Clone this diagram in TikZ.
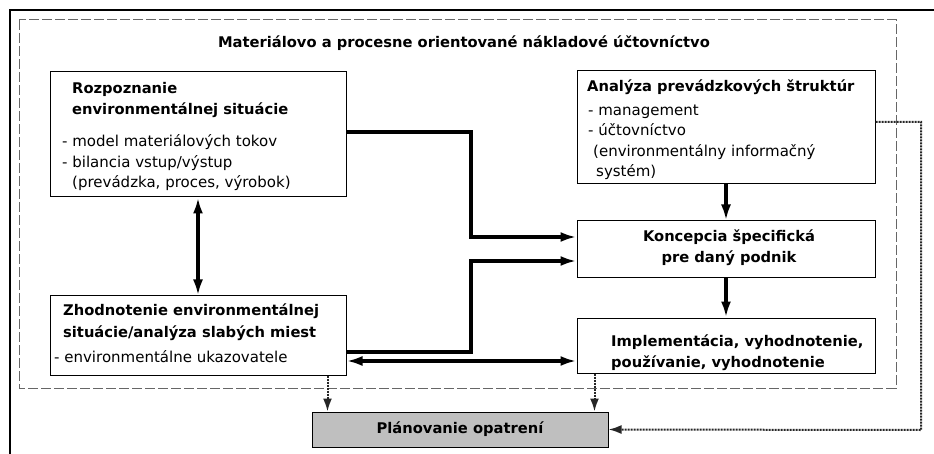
\documentclass[tikz,border=0pt]{standalone}
\usepackage{fontspec}
\setmainfont{DejaVu Sans}
\usetikzlibrary{arrows.meta}
\newcommand{\headsize}{\fontsize{14.7}{21}\selectfont\bfseries}
\newcommand{\bodysize}{\fontsize{15}{20.5}\selectfont}

\begin{document}
\begin{tikzpicture}[x=1pt, y=-1pt,
    box/.style = {draw, line width=1pt, inner sep=0pt},
    head/.style = {font=\headsize, inner sep=0pt, align=left, anchor=base west},
    body/.style = {font=\bodysize, inner sep=0pt, align=left, anchor=base west},
    heavy/.style = {line width=3.2pt, -{Latex[length=16pt, width=10pt]}},
    both/.style = {line width=3.2pt, {Latex[length=16pt, width=10pt]}-{Latex[length=16pt, width=10pt]}},
    dot/.style = {line width=2pt, dash pattern=on 2pt off 1pt, color=black!85,
      -{Latex[length=13pt, width=9pt]}},
  ]
    \useasboundingbox (0,0) rectangle (934,454);
    \draw [line width=2pt] (10,454) |- (934,10);
    \draw [black!60, line width=1pt, dash pattern=on 10pt off 3pt] (19,20) rectangle (896,388);
    \node [head, anchor=base] (title) at (464,48)
      {Materiálovo a procesne orientované nákladové účtovníctvo};

    \node [box, minimum width=296, minimum height=125] (rozp) at (198,134.5) {};
    \node [box, minimum width=298, minimum height=113] (anal) at (726,127.5) {};
    \node [box, minimum width=298, minimum height=57] (konc) at (726,249.5) {};
    \node [box, minimum width=298, minimum height=55] (impl) at (726,345.5) {};
    \node [box, minimum width=296, minimum height=79] (zhod) at (198,335.5) {};
    \node [box, fill=black!25, minimum width=296, minimum height=35,
      font=\headsize] (plan) at (460,429.5) {Plánovanie opatrení};

    % multi-line texts sit on the baseline of their last line
    \node [head] (rozp-head) at (72,115) {Rozpoznanie\\environmentálnej situácie};
    \node [body] (rozp-body) at (62,188) {- model materiálových tokov\\
      - bilancia vstup/výstup\\\hspace*{10pt}(prevádzka, proces, výrobok)};
    \node [head] (anal-head) at (587,92) {Analýza prevádzkových štruktúr};
    \node [body] (anal-body) at (588,177) {- management\\- účtovníctvo\\
      \hspace*{5pt}(environmentálny informačný\\\hspace*{8pt}systém)};
    \node [head, align=center, anchor=base] (konc-head) at (729,263)
      {Koncepcia špecifická\\pre daný podnik};
    \node [head] (impl-head) at (611,367)
      {Implementácia, vyhodnotenie,\\používanie, vyhodnotenie};
    \node [head] (zhod-head) at (63,337)
      {Zhodnotenie environmentálnej\\situácie/analýza slabých miest};
    \node [body] (zhod-body) at (54,362) {- environmentálne ukazovatele};

    \draw [both] (rozp.south) -- (zhod.north);
    \draw [heavy] ([yshift=2.5pt]rozp.east) -| (471,237) -- ([yshift=12.5pt]konc.west);
    \draw [heavy] ([yshift=-16.5pt]zhod.east) -| (471,261) -- ([yshift=-11.5pt]konc.west);
    \draw [heavy] (anal.south) -- (konc.north);
    \draw [heavy] (konc.south) -- (impl.north);
    \draw [both] ([yshift=-25.5pt]zhod.east) -- ([yshift=-25.5pt]zhod.east -| impl.west);
    \draw [dot] ([xshift=-19pt]zhod.south east) -- ([xshift=-19pt]zhod.south east |- plan.north);
    \draw [dot] ([xshift=18pt]impl.south west) -- ([xshift=18pt]impl.south west |- plan.north);
    \draw [dot] ([yshift=5.5pt]anal.east) -| (921,430) -- (plan.east);
  \end{tikzpicture}
\end{document}
